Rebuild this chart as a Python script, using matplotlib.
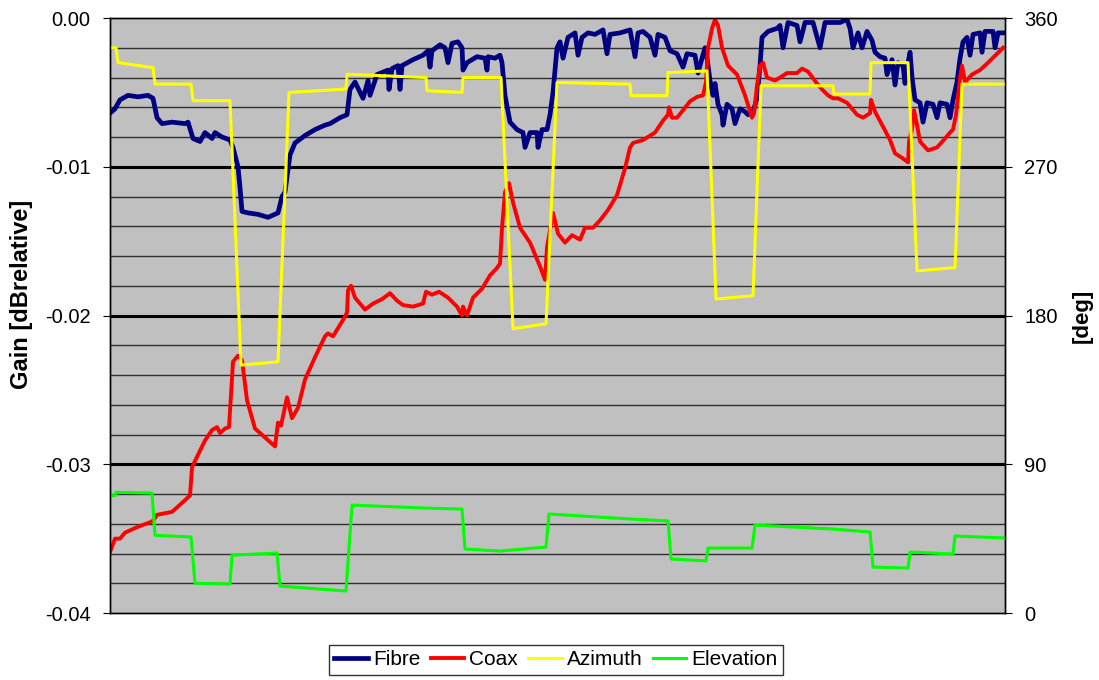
import matplotlib
matplotlib.use("Agg")
import matplotlib.pyplot as plt
from matplotlib.ticker import MultipleLocator

plt.rcParams['font.family'] = ['Liberation Sans', 'DejaVu Sans']

# gain traces (dB relative) against sample number
fibre_x = [0, 5, 10, 18, 28, 38, 43, 47, 52, 62, 75, 78, 83, 90, 95, 102, 105, 112, 120, 123,
           128, 130, 132, 138, 148, 158, 168, 172, 175, 180, 185, 195, 205, 215, 220, 230, 237,
           240, 245, 253, 258, 260, 267, 278, 279, 282, 288, 290, 292, 303, 313, 318, 320, 322,
           330, 335, 338, 342, 348, 352, 353, 357, 367, 375, 377, 378, 385, 390, 392, 395, 400,
           407, 413, 415, 420, 427, 428, 432, 437, 440, 443, 447, 450, 453, 458, 465, 468, 472,
           478, 485, 493, 497, 500, 510, 520, 525, 528, 533, 540, 545, 548, 555, 560, 567, 573,
           577, 585, 588, 592, 595, 597, 600, 603, 605, 608, 612, 613, 617, 622, 625, 630, 635,
           638, 643, 647, 650, 652, 658, 667, 670, 673, 678, 687, 690, 695, 703, 710, 715, 723,
           730, 737, 740, 743, 748, 752, 757, 762, 765, 770, 775, 777, 782, 785, 788, 793, 795,
           798, 800, 802, 805, 810, 813, 817, 823, 827, 830, 837, 840, 843, 847, 850, 853, 857,
           860, 863, 870, 872, 875, 883, 885, 888, 895]
fibre_db = [-0.0064, -0.0061, -0.0055, -0.0052, -0.0053, -0.0052, -0.0054, -0.0067, -0.0071,
            -0.0070, -0.0071, -0.0070, -0.0081, -0.0083, -0.0077, -0.0081, -0.0077, -0.0080,
            -0.0082, -0.0087, -0.0100, -0.0114, -0.0130, -0.0131, -0.0132, -0.0134, -0.0131,
            -0.0120, -0.0117, -0.0092, -0.0084, -0.0079, -0.0075, -0.0072, -0.0071, -0.0067,
            -0.0065, -0.0048, -0.0043, -0.0054, -0.0042, -0.0052, -0.0038, -0.0035, -0.0048,
            -0.0034, -0.0032, -0.0048, -0.0032, -0.0028, -0.0025, -0.0022, -0.0033, -0.0022,
            -0.0018, -0.0020, -0.0030, -0.0017, -0.0016, -0.0020, -0.0035, -0.0030, -0.0026,
            -0.0027, -0.0035, -0.0026, -0.0027, -0.0025, -0.0030, -0.0052, -0.0070, -0.0075,
            -0.0077, -0.0087, -0.0077, -0.0077, -0.0087, -0.0075, -0.0075, -0.0065, -0.0050,
            -0.0020, -0.0016, -0.0027, -0.0013, -0.0010, -0.0025, -0.0013, -0.0010, -0.0011,
            -0.0008, -0.0024, -0.0011, -0.0010, -0.0008, -0.0026, -0.0010, -0.0009, -0.0013,
            -0.0025, -0.0011, -0.0013, -0.0022, -0.0024, -0.0033, -0.0024, -0.0025, -0.0037,
            -0.0027, -0.0020, -0.0027, -0.0042, -0.0052, -0.0044, -0.0058, -0.0065, -0.0072,
            -0.0058, -0.0061, -0.0071, -0.0061, -0.0063, -0.0065, -0.0063, -0.0054, -0.0032,
            -0.0013, -0.0009, -0.0007, -0.0005, -0.0020, -0.0003, -0.0005, -0.0016, -0.0003,
            -0.0003, -0.0020, -0.0003, -0.0003, -0.0003, -0.0001, -0.0007, -0.0020, -0.0010,
            -0.0020, -0.0009, -0.0015, -0.0023, -0.0026, -0.0027, -0.0038, -0.0028, -0.0045,
            -0.0030, -0.0032, -0.0044, -0.0030, -0.0023, -0.0040, -0.0055, -0.0057, -0.0070,
            -0.0057, -0.0058, -0.0067, -0.0057, -0.0058, -0.0067, -0.0055, -0.0043, -0.0027,
            -0.0016, -0.0013, -0.0025, -0.0011, -0.0010, -0.0023, -0.0009, -0.0009, -0.0020,
            -0.0010, -0.0010]

coax_x = [0, 5, 10, 15, 28, 40, 43, 47, 62, 72, 80, 82, 87, 95, 102, 107, 110, 115, 119, 123,
          128, 132, 137, 145, 155, 165, 168, 171, 177, 182, 188, 195, 205, 215, 218, 223, 233,
          237, 238, 241, 245, 255, 263, 272, 280, 287, 293, 303, 313, 316, 322, 329, 338, 347,
          352, 353, 357, 363, 372, 380, 387, 390, 392, 395, 399, 403, 410, 420, 430, 435, 437,
          443, 448, 455, 462, 470, 475, 483, 490, 498, 507, 515, 520, 523, 533, 545, 553, 558,
          559, 562, 567, 573, 580, 587, 593, 596, 598, 602, 605, 608, 612, 618, 627, 635, 642,
          644, 647, 650, 653, 657, 665, 670, 677, 687, 692, 698, 707, 712, 718, 723, 728, 737,
          747, 753, 760, 761, 765, 773, 780, 785, 792, 798, 799, 802, 804, 807, 810, 818, 827,
          835, 840, 843, 846, 850, 852, 855, 862, 870, 878, 887, 893]
coax_db = [-0.0359, -0.0350, -0.0350, -0.0346, -0.0342, -0.0339, -0.0338, -0.0334, -0.0332,
           -0.0326, -0.0321, -0.0302, -0.0295, -0.0284, -0.0277, -0.0275, -0.0279, -0.0276,
           -0.0275, -0.0231, -0.0227, -0.0230, -0.0257, -0.0276, -0.0282, -0.0288, -0.0272,
           -0.0274, -0.0255, -0.0269, -0.0262, -0.0243, -0.0228, -0.0214, -0.0212, -0.0214,
           -0.0203, -0.0198, -0.0183, -0.0180, -0.0188, -0.0196, -0.0192, -0.0189, -0.0185,
           -0.0190, -0.0193, -0.0194, -0.0192, -0.0184, -0.0186, -0.0184, -0.0188, -0.0194,
           -0.0200, -0.0194, -0.0200, -0.0188, -0.0182, -0.0173, -0.0168, -0.0165, -0.0141,
           -0.0117, -0.0111, -0.0124, -0.0141, -0.0151, -0.0167, -0.0176, -0.0154, -0.0131,
           -0.0145, -0.0151, -0.0146, -0.0149, -0.0141, -0.0141, -0.0136, -0.0129, -0.0119,
           -0.0101, -0.0087, -0.0084, -0.0082, -0.0077, -0.0069, -0.0065, -0.0060, -0.0067,
           -0.0067, -0.0062, -0.0056, -0.0053, -0.0052, -0.0043, -0.0020, -0.0007, -0.0001,
           -0.0005, -0.0020, -0.0032, -0.0038, -0.0052, -0.0067, -0.0064, -0.0045, -0.0032,
           -0.0030, -0.0040, -0.0042, -0.0040, -0.0037, -0.0037, -0.0034, -0.0036, -0.0044,
           -0.0048, -0.0052, -0.0054, -0.0054, -0.0057, -0.0065, -0.0067, -0.0064, -0.0055,
           -0.0063, -0.0073, -0.0082, -0.0091, -0.0094, -0.0097, -0.0083, -0.0075, -0.0062,
           -0.0072, -0.0083, -0.0089, -0.0087, -0.0081, -0.0077, -0.0075, -0.0065, -0.0040,
           -0.0032, -0.0043, -0.0038, -0.0035, -0.0030, -0.0024, -0.0020]

# antenna pointing (degrees) against sample number
azimuth_x = [0, 6, 8, 43, 45, 81, 83, 120, 131, 168, 179, 236, 237, 316, 317, 352, 353, 391,
             403, 436, 447, 520, 521, 557, 558, 597, 606, 643, 651, 723, 724, 760, 761, 798,
             807, 845, 852, 895]
azimuth_deg = [342, 342, 333, 330, 320, 320, 310, 310, 150, 152, 315, 317, 326, 324, 316, 315,
               324, 324, 172, 175, 321, 320, 313, 313, 327, 328, 190, 192, 319, 319, 314, 314,
               333, 333, 207, 209, 320, 320]

elevation_x = [0, 5, 6, 42, 45, 81, 85, 120, 122, 167, 170, 236, 242, 315, 352, 355, 390, 436,
               439, 520, 558, 561, 596, 598, 642, 645, 723, 760, 763, 798, 800, 843, 845, 895]
elevation_deg = [71, 71, 73, 72.6, 47, 46, 18, 17.5, 35, 36.3, 16.3, 13.3, 65.3, 63.5, 62.9,
                 38.7, 37.5, 39.9, 59.9, 56.9, 55.7, 32.7, 31.5, 39.3, 39.3, 53.2, 50.8, 49.0,
                 27.8, 27.2, 36.9, 35.7, 46.6, 45.4]

fig = plt.figure(figsize=(10.99, 6.8), dpi=100)
ax = fig.add_axes([0.1001, 0.0985, 0.8144, 0.875])
ax.set_facecolor('#c0c0c0')

# thin lines every 0.002 dB, heavy ones every 0.01 dB
for v in [-0.038, -0.036, -0.034, -0.032, -0.028, -0.026, -0.024, -0.022, -0.018, -0.016,
          -0.014, -0.012, -0.008, -0.006, -0.004, -0.002]:
    ax.axhline(v, color='#303030', lw=1.0, zorder=0)
for v in [-0.03, -0.02, -0.01]:
    ax.axhline(v, color='black', lw=2.2, zorder=0)

l1, = ax.plot(fibre_x, fibre_db, color='#000080', lw=3.4, label='Fibre')
l2, = ax.plot(coax_x, coax_db, color='#ff0000', lw=2.8, label='Coax')

ax.set_xlim(0, 895)
ax.set_ylim(-0.04, 0.0)
ax.yaxis.set_major_locator(MultipleLocator(0.01))
ax.yaxis.set_major_formatter(plt.FormatStrFormatter('%.2f'))
ax.set_xticks([])
ax.tick_params(axis='y', direction='out', length=5, pad=9, labelsize=14.5)
ax.set_ylabel('Gain [dBrelative]', fontsize=17, fontweight='bold')
ax.yaxis.set_label_coords(-0.086, 0.535)

ax2 = ax.twinx()
l3, = ax2.plot(azimuth_x, azimuth_deg, color='#ffff00', lw=2.2, label='Azimuth')
l4, = ax2.plot(elevation_x, elevation_deg, color='#00ff00', lw=2.2, label='Elevation')
ax2.set_ylim(0, 360)
ax2.set_yticks([0, 90, 180, 270, 360])
ax2.tick_params(axis='y', direction='out', length=5, pad=9, labelsize=14.5)
ax2.set_ylabel('[deg]', fontsize=16, fontweight='bold', labelpad=10)

for a in (ax, ax2):
    for s in a.spines.values():
        s.set_color('black')
        s.set_linewidth(1.0)

leg = fig.legend(handles=[l1, l2, l3, l4], loc='center', bbox_to_anchor=(0.506, 0.0295),
                 ncol=4, fontsize=15, frameon=True, fancybox=False, handlelength=1.6,
                 handletextpad=0.25, columnspacing=0.5, borderpad=0.25, borderaxespad=0)
leg.get_frame().set_edgecolor('black')
leg.get_frame().set_linewidth(1.0)

fig.savefig('out.png', dpi=100)
